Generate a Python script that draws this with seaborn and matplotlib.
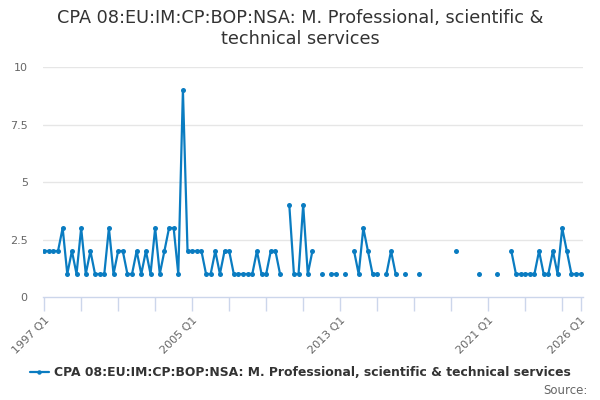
import numpy as np
import pandas as pd
import matplotlib
matplotlib.use("Agg")
import matplotlib.pyplot as plt
from matplotlib.lines import Line2D
import seaborn as sns

nan = np.nan

title_text = "CPA 08:EU:IM:CP:BOP:NSA: M. Professional, scientific &\ntechnical services"
series_name = "CPA 08:EU:IM:CP:BOP:NSA: M. Professional, scientific & technical services"

start_year = 1997
end_year = 2026
quarters = [f"{y} Q{q}" for y in range(start_year, end_year + 1) for q in range(1, 5)]
quarters = quarters[: quarters.index("2026 Q1") + 1]

values = [
    2, 2, 2, 2,
    3, 1, 2, 1, 3, 1,
    2, 1, 1, 1, 3, 1,
    2, 2, 1, 1, 2, 1,
    2, 1, 3, 1, 2, 3,
    3, 1, 9, 2,
    2, 2, 2, 1, 1, 2, 1, 2,
    2, 1, 1, 1, 1, 1, 2, 1,
    1, 2, 2, 1,
    nan,
    4, 1, 1, 4, 1, 2,
    nan, 1, nan, 1, 1, nan, 1, nan,
    2, 1, 3, 2, 1, 1,
    nan, 1, 2, 1, nan, 1, nan, nan, 1,
    nan, nan, nan, nan, nan, nan, nan,
    2,
    nan, nan, nan, nan,
    1,
    nan, nan, nan,
    1,
    nan, nan,
    2, 1, 1, 1, 1, 1, 2, 1, 1, 2, 1, 3, 2, 1, 1, 1,
]

tick_labels = ["1997 Q1", "2005 Q1", "2013 Q1", "2021 Q1", "2026 Q1"]
y_ticks = [0, 2.5, 5, 7.5, 10]
y_tick_labels = ["0", "2.5", "5", "7.5", "10"]

df = pd.DataFrame({"quarter": quarters, "value": values})
df["pos"] = np.arange(len(df))
# contiguous segments so that missing values produce gaps
isna = df["value"].isna()
df["seg"] = isna.cumsum()
plot_df = df[~isna].copy()

sns.set_theme(style="white")
plt.rcParams["font.family"] = ["DejaVu Sans"]

color = "#0a7cc1"
grid_c = "#e6e6e6"
axis_c = "#ccd6eb"
text_c = "#666666"

fig = plt.figure(figsize=(6, 4), dpi=100)
ax = fig.add_axes([43 / 600, 1 - 297 / 400, 540 / 600, 230 / 400])

sns.lineplot(data=plot_df, x="pos", y="value", units="seg", estimator=None,
             color=color, linewidth=1.6, marker="o", markersize=3.6,
             markeredgewidth=0, ax=ax, legend=False)

ax.set_xlim(-0.25, len(quarters) - 1 + 0.5)
ax.set_ylim(0, 10)

ax.set_yticks(y_ticks)
ax.set_yticklabels(y_tick_labels, color=text_c, fontsize=8)
ax.tick_params(axis="y", length=0, pad=11)
for yv in y_ticks[1:]:
    ax.axhline(yv, color=grid_c, linewidth=1, zorder=0)

major_pos = [quarters.index(t) for t in tick_labels]
minor_pos = [p for p in range(0, len(quarters) - 4, 8)] + [len(quarters) - 1]
ax.set_xticks(minor_pos, minor=True)
ax.set_xticks(major_pos)
ax.set_xticklabels(tick_labels, rotation=45, ha="right", rotation_mode="anchor",
                   color=text_c, fontsize=8)
ax.tick_params(axis="x", which="both", length=10, width=1, color=axis_c,
               direction="out", pad=3, bottom=True)
ax.tick_params(axis="x", which="minor", labelbottom=False)

for s in ["top", "right", "left"]:
    ax.spines[s].set_visible(False)
ax.spines["bottom"].set_color(axis_c)
ax.spines["bottom"].set_linewidth(1)
ax.set_xlabel("")
ax.set_ylabel("")
ax.grid(False)

fig.text(0.5, 1 - 9 / 400, title_text, ha="center", va="top", fontsize=12.7,
         color="#333333", linespacing=1.2)

handle = Line2D([0], [0], color=color, linewidth=1.6, marker="o", markersize=3.2,
                markeredgewidth=0)
leg = fig.legend([handle], [series_name], loc="center", bbox_to_anchor=(0.5, 1 - 373 / 400),
                 frameon=False, prop={"weight": "bold", "size": 8.9}, handlelength=1.6,
                 handletextpad=0.35, labelcolor="#333333")

fig.text(588 / 600, 1 - 391 / 400, "Source:", ha="right", va="center", fontsize=8.5,
         color=text_c)

fig.savefig("out.png", dpi=100)
